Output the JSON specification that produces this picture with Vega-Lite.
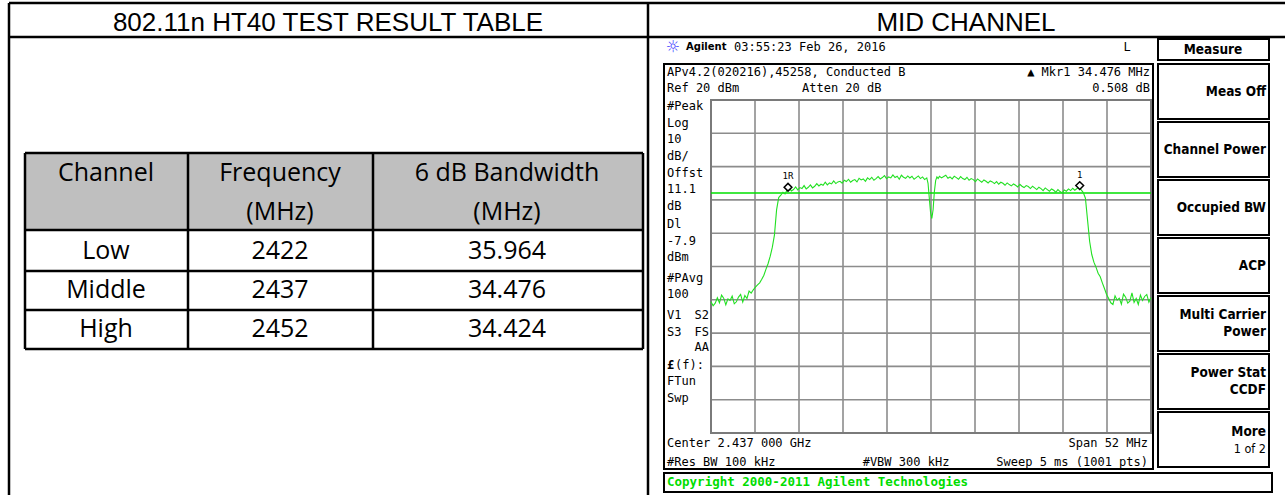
{
  "$schema": "https://vega.github.io/schema/vega-lite/v6.json",
  "width": 1285,
  "height": 495,
  "padding": 0,
  "autosize": {"type": "fit", "contains": "padding"},
  "background": "white",
  "config": {"view": {"stroke": null}},
  "datasets": {
    "lay": [
      {"k": "hdr", "x": 25, "x2": 643, "y": 153, "y2": 230},
      {"k": "line", "x": 9, "x2": 1285, "y": 3, "y2": 3},
      {"k": "line", "x": 9, "x2": 1285, "y": 37, "y2": 37},
      {"k": "line", "x": 9, "x2": 9, "y": 3, "y2": 495},
      {"k": "line", "x": 648, "x2": 648, "y": 3, "y2": 495},
      {"k": "line", "x": 25, "x2": 643, "y": 153, "y2": 153},
      {"k": "line", "x": 25, "x2": 643, "y": 230, "y2": 230},
      {"k": "line", "x": 25, "x2": 643, "y": 271, "y2": 271},
      {"k": "line", "x": 25, "x2": 643, "y": 310, "y2": 310},
      {"k": "line", "x": 25, "x2": 643, "y": 349, "y2": 349},
      {"k": "line", "x": 25, "x2": 25, "y": 153, "y2": 349},
      {"k": "line", "x": 188, "x2": 188, "y": 153, "y2": 349},
      {"k": "line", "x": 373, "x2": 373, "y": 153, "y2": 349},
      {"k": "line", "x": 643, "x2": 643, "y": 153, "y2": 349},
      {"k": "box", "x": 664, "x2": 1153, "y": 64, "y2": 469},
      {"k": "box", "x": 664, "x2": 1272, "y": 473, "y2": 492},
      {"k": "box", "x": 1158, "x2": 1269, "y": 39, "y2": 60},
      {"k": "box", "x": 1158, "x2": 1269, "y": 64, "y2": 119},
      {"k": "box", "x": 1158, "x2": 1269, "y": 122, "y2": 177},
      {"k": "box", "x": 1158, "x2": 1269, "y": 180, "y2": 235},
      {"k": "box", "x": 1158, "x2": 1269, "y": 238, "y2": 293},
      {"k": "box", "x": 1158, "x2": 1269, "y": 296, "y2": 351},
      {"k": "box", "x": 1158, "x2": 1269, "y": 354, "y2": 409},
      {"k": "box", "x": 1158, "x2": 1269, "y": 412, "y2": 467},
      {"k": "title", "t": "802.11n HT40 TEST RESULT TABLE", "x": 328, "y": 31},
      {"k": "title", "t": "MID CHANNEL", "x": 966, "y": 31},
      {"k": "tbl", "t": "Channel", "x": 106, "y": 173},
      {"k": "tbl", "t": "Frequency", "x": 280, "y": 173},
      {"k": "tbl", "t": "(MHz)", "x": 280, "y": 212},
      {"k": "tbl", "t": "6 dB Bandwidth", "x": 507, "y": 173},
      {"k": "tbl", "t": "(MHz)", "x": 507, "y": 212},
      {"k": "tbl", "t": "Low", "x": 106, "y": 251},
      {"k": "tbl", "t": "2422", "x": 280, "y": 251},
      {"k": "tbl", "t": "35.964", "x": 507, "y": 251},
      {"k": "tbl", "t": "Middle", "x": 106, "y": 290},
      {"k": "tbl", "t": "2437", "x": 280, "y": 290},
      {"k": "tbl", "t": "34.476", "x": 507, "y": 290},
      {"k": "tbl", "t": "High", "x": 106, "y": 329},
      {"k": "tbl", "t": "2452", "x": 280, "y": 329},
      {"k": "tbl", "t": "34.424", "x": 507, "y": 329},
      {"k": "sun", "t": "☼", "x": 673, "y": 47},
      {"k": "ag", "t": "Agilent", "x": 686, "y": 47},
      {"k": "ml", "t": "03:55:23  Feb 26, 2016", "x": 734, "y": 47},
      {"k": "mc", "t": "L", "x": 1127, "y": 47},
      {"k": "ml", "t": "APv4.2(020216),45258, Conducted B", "x": 667, "y": 72},
      {"k": "mr", "t": "▲ Mkr1  34.476 MHz", "x": 1150, "y": 72},
      {"k": "ml", "t": "Ref 20 dBm", "x": 667, "y": 88},
      {"k": "ml", "t": "Atten 20 dB", "x": 802, "y": 88},
      {"k": "mr", "t": "0.508 dB", "x": 1150, "y": 88},
      {"k": "ml", "t": "#Peak", "x": 667, "y": 106},
      {"k": "ml", "t": "Log", "x": 667, "y": 123},
      {"k": "ml", "t": "10", "x": 667, "y": 139},
      {"k": "ml", "t": "dB/", "x": 667, "y": 156},
      {"k": "ml", "t": "Offst", "x": 667, "y": 173},
      {"k": "ml", "t": "11.1", "x": 667, "y": 189},
      {"k": "ml", "t": "dB", "x": 667, "y": 206},
      {"k": "ml", "t": "Dl", "x": 667, "y": 224},
      {"k": "ml", "t": "-7.9", "x": 667, "y": 241},
      {"k": "ml", "t": "dBm", "x": 667, "y": 257},
      {"k": "ml", "t": "#PAvg", "x": 667, "y": 278},
      {"k": "ml", "t": "100", "x": 667, "y": 294},
      {"k": "ml", "t": "V1", "x": 667, "y": 315},
      {"k": "mr", "t": "S2", "x": 709, "y": 315},
      {"k": "ml", "t": "S3", "x": 667, "y": 332},
      {"k": "mr", "t": "FS", "x": 709, "y": 332},
      {"k": "mr", "t": "AA", "x": 709, "y": 347},
      {"k": "mlb", "t": "£", "x": 667, "y": 365},
      {"k": "ml", "t": "(f):", "x": 675, "y": 365},
      {"k": "ml", "t": "FTun", "x": 667, "y": 381},
      {"k": "ml", "t": "Swp", "x": 667, "y": 398},
      {"k": "ml", "t": "Center 2.437 000 GHz", "x": 667, "y": 443},
      {"k": "mr", "t": "Span 52 MHz", "x": 1148, "y": 443},
      {"k": "ml", "t": "#Res BW 100 kHz", "x": 667, "y": 462},
      {"k": "mc", "t": "#VBW 300 kHz", "x": 906, "y": 462},
      {"k": "mr", "t": "Sweep 5 ms (1001 pts)", "x": 1148, "y": 462},
      {"k": "cp", "t": "Copyright 2000-2011 Agilent Technologies", "x": 667, "y": 482},
      {"k": "skc", "t": "Measure", "x": 1213, "y": 50},
      {"k": "sk", "t": "Meas Off", "x": 1266, "y": 92},
      {"k": "sk", "t": "Channel Power", "x": 1266, "y": 150},
      {"k": "sk", "t": "Occupied BW", "x": 1266, "y": 208},
      {"k": "sk", "t": "ACP", "x": 1266, "y": 266},
      {"k": "sk", "t": "Multi Carrier", "x": 1266, "y": 315},
      {"k": "sk", "t": "Power", "x": 1266, "y": 332},
      {"k": "sk", "t": "Power Stat", "x": 1266, "y": 373},
      {"k": "sk", "t": "CCDF", "x": 1266, "y": 390},
      {"k": "sk", "t": "More", "x": 1266, "y": 432},
      {"k": "skn", "t": "1 of 2", "x": 1266, "y": 449}
    ],
    "gv": [{"f": 2416.2}, {"f": 2421.4}, {"f": 2426.6}, {"f": 2431.8}, {"f": 2437.0}, {"f": 2442.2}, {"f": 2447.4}, {"f": 2452.6}, {"f": 2457.8}],
    "gh": [{"p": 10}, {"p": 0}, {"p": -10}, {"p": -20}, {"p": -30}, {"p": -40}, {"p": -50}, {"p": -60}, {"p": -70}],
    "dl": [{"p": -7.9}],
    "mk": [{"f": 2420.1, "p": -6.2, "m": "1R"}, {"f": 2454.576, "p": -5.7, "m": "1"}],
    "tr": [
      {"f": 2411, "p": -40.6}, {"f": 2411.25, "p": -41.8}, {"f": 2411.5, "p": -41.0}, {"f": 2411.75, "p": -39.4},
      {"f": 2412, "p": -40.9}, {"f": 2412.25, "p": -38.6}, {"f": 2412.5, "p": -39.5}, {"f": 2412.75, "p": -41.5},
      {"f": 2413, "p": -39.7}, {"f": 2413.25, "p": -40.2}, {"f": 2413.5, "p": -38.9}, {"f": 2413.75, "p": -41.2},
      {"f": 2414, "p": -40.6}, {"f": 2414.25, "p": -39.2}, {"f": 2414.5, "p": -38.4}, {"f": 2414.75, "p": -40.7},
      {"f": 2415, "p": -38.7}, {"f": 2415.25, "p": -39.6}, {"f": 2415.5, "p": -37.4}, {"f": 2415.75, "p": -38.0},
      {"f": 2416, "p": -37.0}, {"f": 2416.25, "p": -36.2}, {"f": 2416.5, "p": -35.5}, {"f": 2416.75, "p": -34.9},
      {"f": 2417, "p": -33.8}, {"f": 2417.25, "p": -32.6}, {"f": 2417.5, "p": -30.8}, {"f": 2417.75, "p": -29.1},
      {"f": 2418, "p": -26.9}, {"f": 2418.25, "p": -24.2}, {"f": 2418.5, "p": -20.5}, {"f": 2418.75, "p": -13.0},
      {"f": 2419, "p": -9.3}, {"f": 2419.25, "p": -8.6}, {"f": 2419.5, "p": -7.7}, {"f": 2419.75, "p": -8.2},
      {"f": 2420, "p": -7.0}, {"f": 2420.25, "p": -6.4}, {"f": 2420.5, "p": -7.3}, {"f": 2420.75, "p": -6.9},
      {"f": 2421, "p": -6.1}, {"f": 2421.25, "p": -7.0}, {"f": 2421.5, "p": -6.3}, {"f": 2421.75, "p": -6.6},
      {"f": 2422, "p": -5.7}, {"f": 2422.25, "p": -6.7}, {"f": 2422.5, "p": -6.2}, {"f": 2422.75, "p": -5.5},
      {"f": 2423, "p": -6.4}, {"f": 2423.25, "p": -5.9}, {"f": 2423.5, "p": -5.1}, {"f": 2423.75, "p": -5.8},
      {"f": 2424, "p": -5.3}, {"f": 2424.25, "p": -5.6}, {"f": 2424.5, "p": -4.7}, {"f": 2424.75, "p": -5.5},
      {"f": 2425, "p": -4.9}, {"f": 2425.25, "p": -5.2}, {"f": 2425.5, "p": -4.3}, {"f": 2425.75, "p": -5.1},
      {"f": 2426, "p": -4.6}, {"f": 2426.25, "p": -4.4}, {"f": 2426.5, "p": -5.0}, {"f": 2426.75, "p": -4.1},
      {"f": 2427, "p": -4.5}, {"f": 2427.25, "p": -3.8}, {"f": 2427.5, "p": -4.7}, {"f": 2427.75, "p": -4.2},
      {"f": 2428, "p": -3.9}, {"f": 2428.25, "p": -4.6}, {"f": 2428.5, "p": -3.5}, {"f": 2428.75, "p": -4.0},
      {"f": 2429, "p": -3.7}, {"f": 2429.25, "p": -4.4}, {"f": 2429.5, "p": -3.4}, {"f": 2429.75, "p": -3.9},
      {"f": 2430, "p": -3.2}, {"f": 2430.25, "p": -4.1}, {"f": 2430.5, "p": -3.6}, {"f": 2430.75, "p": -3.0},
      {"f": 2431, "p": -3.7}, {"f": 2431.25, "p": -3.3}, {"f": 2431.5, "p": -2.7}, {"f": 2431.75, "p": -3.6},
      {"f": 2432, "p": -3.1}, {"f": 2432.25, "p": -3.4}, {"f": 2432.5, "p": -2.5}, {"f": 2432.75, "p": -3.3},
      {"f": 2433, "p": -2.9}, {"f": 2433.25, "p": -3.8}, {"f": 2433.5, "p": -2.6}, {"f": 2433.75, "p": -3.2},
      {"f": 2434, "p": -3.5}, {"f": 2434.25, "p": -2.8}, {"f": 2434.5, "p": -3.4}, {"f": 2434.75, "p": -2.9},
      {"f": 2435, "p": -3.8}, {"f": 2435.25, "p": -3.3}, {"f": 2435.5, "p": -2.8}, {"f": 2435.75, "p": -3.6},
      {"f": 2436, "p": -3.1}, {"f": 2436.25, "p": -3.9}, {"f": 2436.5, "p": -3.4}, {"f": 2436.65, "p": -5.0},
      {"f": 2436.8, "p": -9.5}, {"f": 2436.95, "p": -13.8}, {"f": 2437.1, "p": -15.6}, {"f": 2437.25, "p": -12.9},
      {"f": 2437.4, "p": -7.5}, {"f": 2437.55, "p": -4.2}, {"f": 2437.7, "p": -3.1}, {"f": 2437.85, "p": -3.6},
      {"f": 2438, "p": -2.9}, {"f": 2438.25, "p": -3.4}, {"f": 2438.5, "p": -3.0}, {"f": 2438.75, "p": -2.6},
      {"f": 2439, "p": -3.5}, {"f": 2439.25, "p": -3.1}, {"f": 2439.5, "p": -3.7}, {"f": 2439.75, "p": -2.9},
      {"f": 2440, "p": -3.3}, {"f": 2440.25, "p": -3.8}, {"f": 2440.5, "p": -3.0}, {"f": 2440.75, "p": -3.6},
      {"f": 2441, "p": -3.9}, {"f": 2441.25, "p": -3.2}, {"f": 2441.5, "p": -4.1}, {"f": 2441.75, "p": -3.6},
      {"f": 2442, "p": -3.9}, {"f": 2442.25, "p": -4.5}, {"f": 2442.5, "p": -3.7}, {"f": 2442.75, "p": -4.2},
      {"f": 2443, "p": -4.7}, {"f": 2443.25, "p": -4.0}, {"f": 2443.5, "p": -4.4}, {"f": 2443.75, "p": -4.9},
      {"f": 2444, "p": -4.3}, {"f": 2444.25, "p": -4.6}, {"f": 2444.5, "p": -5.1}, {"f": 2444.75, "p": -4.5},
      {"f": 2445, "p": -5.3}, {"f": 2445.25, "p": -4.7}, {"f": 2445.5, "p": -5.0}, {"f": 2445.75, "p": -5.6},
      {"f": 2446, "p": -4.9}, {"f": 2446.25, "p": -5.4}, {"f": 2446.5, "p": -5.8}, {"f": 2446.75, "p": -5.2},
      {"f": 2447, "p": -5.6}, {"f": 2447.25, "p": -6.1}, {"f": 2447.5, "p": -5.3}, {"f": 2447.75, "p": -5.9},
      {"f": 2448, "p": -6.3}, {"f": 2448.25, "p": -5.7}, {"f": 2448.5, "p": -6.0}, {"f": 2448.75, "p": -6.6},
      {"f": 2449, "p": -5.9}, {"f": 2449.25, "p": -6.4}, {"f": 2449.5, "p": -6.9}, {"f": 2449.75, "p": -6.2},
      {"f": 2450, "p": -6.6}, {"f": 2450.25, "p": -7.2}, {"f": 2450.5, "p": -6.4}, {"f": 2450.75, "p": -6.9},
      {"f": 2451, "p": -7.4}, {"f": 2451.25, "p": -6.7}, {"f": 2451.5, "p": -7.1}, {"f": 2451.75, "p": -7.7},
      {"f": 2452, "p": -6.9}, {"f": 2452.25, "p": -7.5}, {"f": 2452.5, "p": -7.9}, {"f": 2452.75, "p": -7.0},
      {"f": 2453, "p": -7.4}, {"f": 2453.25, "p": -6.7}, {"f": 2453.5, "p": -7.2}, {"f": 2453.75, "p": -6.5},
      {"f": 2454, "p": -7.1}, {"f": 2454.25, "p": -6.6}, {"f": 2454.5, "p": -6.3}, {"f": 2454.75, "p": -7.0},
      {"f": 2455, "p": -7.8}, {"f": 2455.25, "p": -9.5}, {"f": 2455.5, "p": -16.0}, {"f": 2455.75, "p": -22.5},
      {"f": 2456, "p": -26.4}, {"f": 2456.25, "p": -28.7}, {"f": 2456.5, "p": -30.2}, {"f": 2456.75, "p": -32.0},
      {"f": 2457, "p": -33.1}, {"f": 2457.25, "p": -34.9}, {"f": 2457.5, "p": -36.6}, {"f": 2457.75, "p": -38.4},
      {"f": 2458, "p": -39.6}, {"f": 2458.25, "p": -40.9}, {"f": 2458.5, "p": -41.4}, {"f": 2458.75, "p": -38.8},
      {"f": 2459, "p": -40.1}, {"f": 2459.25, "p": -39.5}, {"f": 2459.5, "p": -41.3}, {"f": 2459.75, "p": -38.3},
      {"f": 2460, "p": -39.2}, {"f": 2460.25, "p": -41.0}, {"f": 2460.5, "p": -40.4}, {"f": 2460.75, "p": -37.9},
      {"f": 2461, "p": -40.8}, {"f": 2461.25, "p": -39.6}, {"f": 2461.5, "p": -41.4}, {"f": 2461.75, "p": -38.6},
      {"f": 2462, "p": -40.2}, {"f": 2462.25, "p": -39.0}, {"f": 2462.5, "p": -38.4}, {"f": 2462.75, "p": -40.7},
      {"f": 2463, "p": -39.3}
    ]
  },
  "layer": [
    {
      "layer": [
        {
          "data": {"name": "lay"},
          "transform": [{"filter": "datum.k == 'hdr'"}],
          "mark": {"type": "rect", "fill": "#bfbfbf", "stroke": null},
          "encoding": {
            "x": {"field": "x", "type": "quantitative", "scale": {"domain": [0, 1285], "range": [0, 1285], "nice": false, "zero": false}, "axis": null},
            "x2": {"field": "x2"},
            "y": {"field": "y", "type": "quantitative", "scale": {"domain": [0, 495], "range": [0, 495], "nice": false, "zero": false}, "axis": null},
            "y2": {"field": "y2"}
          }
        },
        {
          "data": {"name": "lay"},
          "transform": [{"filter": "datum.k == 'line'"}],
          "mark": {"type": "rule", "color": "black", "strokeWidth": 2.5},
          "encoding": {
            "x": {"field": "x", "type": "quantitative", "scale": {"domain": [0, 1285], "range": [0, 1285], "nice": false, "zero": false}, "axis": null},
            "x2": {"field": "x2"},
            "y": {"field": "y", "type": "quantitative", "scale": {"domain": [0, 495], "range": [0, 495], "nice": false, "zero": false}, "axis": null},
            "y2": {"field": "y2"}
          }
        },
        {
          "data": {"name": "lay"},
          "transform": [{"filter": "datum.k == 'box'"}],
          "mark": {"type": "rect", "fill": "transparent", "stroke": "black", "strokeWidth": 2},
          "encoding": {
            "x": {"field": "x", "type": "quantitative", "scale": {"domain": [0, 1285], "range": [0, 1285], "nice": false, "zero": false}, "axis": null},
            "x2": {"field": "x2"},
            "y": {"field": "y", "type": "quantitative", "scale": {"domain": [0, 495], "range": [0, 495], "nice": false, "zero": false}, "axis": null},
            "y2": {"field": "y2"}
          }
        },
        {
          "data": {"name": "lay"},
          "transform": [{"filter": "datum.k == 'title'"}],
          "mark": {"type": "text", "font": "Liberation Sans", "fontSize": 26, "align": "center", "baseline": "alphabetic", "color": "black"},
          "encoding": {
            "x": {"field": "x", "type": "quantitative", "scale": {"domain": [0, 1285], "range": [0, 1285], "nice": false, "zero": false}, "axis": null},
            "y": {"field": "y", "type": "quantitative", "scale": {"domain": [0, 495], "range": [0, 495], "nice": false, "zero": false}, "axis": null},
            "text": {"field": "t"}
          }
        },
        {
          "data": {"name": "lay"},
          "transform": [{"filter": "datum.k == 'tbl'"}],
          "mark": {"type": "text", "font": "Open Sans", "fontSize": 25, "align": "center", "baseline": "middle", "color": "black"},
          "encoding": {
            "x": {"field": "x", "type": "quantitative", "scale": {"domain": [0, 1285], "range": [0, 1285], "nice": false, "zero": false}, "axis": null},
            "y": {"field": "y", "type": "quantitative", "scale": {"domain": [0, 495], "range": [0, 495], "nice": false, "zero": false}, "axis": null},
            "text": {"field": "t"}
          }
        },
        {
          "data": {"name": "lay"},
          "transform": [{"filter": "datum.k == 'ml'"}],
          "mark": {"type": "text", "font": "DejaVu Sans Mono", "fontSize": 12, "align": "left", "baseline": "middle", "color": "black"},
          "encoding": {
            "x": {"field": "x", "type": "quantitative", "scale": {"domain": [0, 1285], "range": [0, 1285], "nice": false, "zero": false}, "axis": null},
            "y": {"field": "y", "type": "quantitative", "scale": {"domain": [0, 495], "range": [0, 495], "nice": false, "zero": false}, "axis": null},
            "text": {"field": "t"}
          }
        },
        {
          "data": {"name": "lay"},
          "transform": [{"filter": "datum.k == 'mlb'"}],
          "mark": {"type": "text", "font": "DejaVu Sans Mono", "fontSize": 12, "fontWeight": "bold", "align": "left", "baseline": "middle", "color": "black"},
          "encoding": {
            "x": {"field": "x", "type": "quantitative", "scale": {"domain": [0, 1285], "range": [0, 1285], "nice": false, "zero": false}, "axis": null},
            "y": {"field": "y", "type": "quantitative", "scale": {"domain": [0, 495], "range": [0, 495], "nice": false, "zero": false}, "axis": null},
            "text": {"field": "t"}
          }
        },
        {
          "data": {"name": "lay"},
          "transform": [{"filter": "datum.k == 'mr'"}],
          "mark": {"type": "text", "font": "DejaVu Sans Mono", "fontSize": 12, "align": "right", "baseline": "middle", "color": "black"},
          "encoding": {
            "x": {"field": "x", "type": "quantitative", "scale": {"domain": [0, 1285], "range": [0, 1285], "nice": false, "zero": false}, "axis": null},
            "y": {"field": "y", "type": "quantitative", "scale": {"domain": [0, 495], "range": [0, 495], "nice": false, "zero": false}, "axis": null},
            "text": {"field": "t"}
          }
        },
        {
          "data": {"name": "lay"},
          "transform": [{"filter": "datum.k == 'mc'"}],
          "mark": {"type": "text", "font": "DejaVu Sans Mono", "fontSize": 12, "align": "center", "baseline": "middle", "color": "black"},
          "encoding": {
            "x": {"field": "x", "type": "quantitative", "scale": {"domain": [0, 1285], "range": [0, 1285], "nice": false, "zero": false}, "axis": null},
            "y": {"field": "y", "type": "quantitative", "scale": {"domain": [0, 495], "range": [0, 495], "nice": false, "zero": false}, "axis": null},
            "text": {"field": "t"}
          }
        },
        {
          "data": {"name": "lay"},
          "transform": [{"filter": "datum.k == 'ag'"}],
          "mark": {"type": "text", "font": "DejaVu Sans", "fontSize": 10, "fontWeight": "bold", "align": "left", "baseline": "middle", "color": "black"},
          "encoding": {
            "x": {"field": "x", "type": "quantitative", "scale": {"domain": [0, 1285], "range": [0, 1285], "nice": false, "zero": false}, "axis": null},
            "y": {"field": "y", "type": "quantitative", "scale": {"domain": [0, 495], "range": [0, 495], "nice": false, "zero": false}, "axis": null},
            "text": {"field": "t"}
          }
        },
        {
          "data": {"name": "lay"},
          "transform": [{"filter": "datum.k == 'sun'"}],
          "mark": {"type": "text", "font": "DejaVu Sans", "fontSize": 16, "align": "center", "baseline": "middle", "color": "#3d3dff"},
          "encoding": {
            "x": {"field": "x", "type": "quantitative", "scale": {"domain": [0, 1285], "range": [0, 1285], "nice": false, "zero": false}, "axis": null},
            "y": {"field": "y", "type": "quantitative", "scale": {"domain": [0, 495], "range": [0, 495], "nice": false, "zero": false}, "axis": null},
            "text": {"field": "t"}
          }
        },
        {
          "data": {"name": "lay"},
          "transform": [{"filter": "datum.k == 'cp'"}],
          "mark": {"type": "text", "font": "DejaVu Sans Mono", "fontSize": 12.5, "fontWeight": "bold", "align": "left", "baseline": "middle", "color": "#00dd00"},
          "encoding": {
            "x": {"field": "x", "type": "quantitative", "scale": {"domain": [0, 1285], "range": [0, 1285], "nice": false, "zero": false}, "axis": null},
            "y": {"field": "y", "type": "quantitative", "scale": {"domain": [0, 495], "range": [0, 495], "nice": false, "zero": false}, "axis": null},
            "text": {"field": "t"}
          }
        },
        {
          "data": {"name": "lay"},
          "transform": [{"filter": "datum.k == 'sk'"}],
          "mark": {"type": "text", "font": "DejaVu Sans Condensed, DejaVu Sans", "fontSize": 13.5, "fontWeight": "bold", "align": "right", "baseline": "middle", "color": "black"},
          "encoding": {
            "x": {"field": "x", "type": "quantitative", "scale": {"domain": [0, 1285], "range": [0, 1285], "nice": false, "zero": false}, "axis": null},
            "y": {"field": "y", "type": "quantitative", "scale": {"domain": [0, 495], "range": [0, 495], "nice": false, "zero": false}, "axis": null},
            "text": {"field": "t"}
          }
        },
        {
          "data": {"name": "lay"},
          "transform": [{"filter": "datum.k == 'skc'"}],
          "mark": {"type": "text", "font": "DejaVu Sans Condensed, DejaVu Sans", "fontSize": 13.5, "fontWeight": "bold", "align": "center", "baseline": "middle", "color": "black"},
          "encoding": {
            "x": {"field": "x", "type": "quantitative", "scale": {"domain": [0, 1285], "range": [0, 1285], "nice": false, "zero": false}, "axis": null},
            "y": {"field": "y", "type": "quantitative", "scale": {"domain": [0, 495], "range": [0, 495], "nice": false, "zero": false}, "axis": null},
            "text": {"field": "t"}
          }
        },
        {
          "data": {"name": "lay"},
          "transform": [{"filter": "datum.k == 'skn'"}],
          "mark": {"type": "text", "font": "DejaVu Sans Condensed, DejaVu Sans", "fontSize": 12.5, "align": "right", "baseline": "middle", "color": "black"},
          "encoding": {
            "x": {"field": "x", "type": "quantitative", "scale": {"domain": [0, 1285], "range": [0, 1285], "nice": false, "zero": false}, "axis": null},
            "y": {"field": "y", "type": "quantitative", "scale": {"domain": [0, 495], "range": [0, 495], "nice": false, "zero": false}, "axis": null},
            "text": {"field": "t"}
          }
        }
      ]
    },
    {
      "layer": [
        {
          "data": {"name": "gv"},
          "mark": {"type": "rule", "color": "#8c8c8c", "strokeWidth": 1.6},
          "encoding": {
            "x": {"field": "f", "type": "quantitative", "scale": {"domain": [2411, 2463], "range": [711, 1151], "nice": false, "zero": false}, "axis": null},
            "y": {"datum": -80, "type": "quantitative", "scale": {"domain": [-80, 20], "range": [433, 100], "nice": false, "zero": false}, "axis": null},
            "y2": {"datum": 20}
          }
        },
        {
          "data": {"name": "gh"},
          "mark": {"type": "rule", "color": "#8c8c8c", "strokeWidth": 1.6},
          "encoding": {
            "x": {"datum": 2411, "type": "quantitative", "scale": {"domain": [2411, 2463], "range": [711, 1151], "nice": false, "zero": false}, "axis": null},
            "x2": {"datum": 2463},
            "y": {"field": "p", "type": "quantitative", "scale": {"domain": [-80, 20], "range": [433, 100], "nice": false, "zero": false}, "axis": null}
          }
        },
        {
          "data": {"name": "dl"},
          "mark": {"type": "rect", "fill": "transparent", "stroke": "#7a7a7a", "strokeWidth": 2},
          "encoding": {
            "x": {"datum": 2411, "type": "quantitative", "scale": {"domain": [2411, 2463], "range": [711, 1151], "nice": false, "zero": false}, "axis": null},
            "x2": {"datum": 2463},
            "y": {"datum": -80, "type": "quantitative", "scale": {"domain": [-80, 20], "range": [433, 100], "nice": false, "zero": false}, "axis": null},
            "y2": {"datum": 20}
          }
        },
        {
          "data": {"name": "dl"},
          "mark": {"type": "rule", "color": "#00e000", "strokeWidth": 1.5},
          "encoding": {
            "x": {"datum": 2411, "type": "quantitative", "scale": {"domain": [2411, 2463], "range": [711, 1151], "nice": false, "zero": false}, "axis": null},
            "x2": {"datum": 2463},
            "y": {"field": "p", "type": "quantitative", "scale": {"domain": [-80, 20], "range": [433, 100], "nice": false, "zero": false}, "axis": null}
          }
        },
        {
          "data": {"name": "tr"},
          "mark": {"type": "line", "stroke": "#22e022", "strokeWidth": 1.1},
          "encoding": {
            "x": {"field": "f", "type": "quantitative", "scale": {"domain": [2411, 2463], "range": [711, 1151], "nice": false, "zero": false}, "axis": null},
            "y": {"field": "p", "type": "quantitative", "scale": {"domain": [-80, 20], "range": [433, 100], "nice": false, "zero": false}, "axis": null}
          }
        },
        {
          "data": {"name": "mk"},
          "mark": {"type": "point", "shape": "diamond", "size": 60, "filled": true, "fill": "white", "stroke": "black", "strokeWidth": 1.5, "opacity": 1},
          "encoding": {
            "x": {"field": "f", "type": "quantitative", "scale": {"domain": [2411, 2463], "range": [711, 1151], "nice": false, "zero": false}, "axis": null},
            "y": {"field": "p", "type": "quantitative", "scale": {"domain": [-80, 20], "range": [433, 100], "nice": false, "zero": false}, "axis": null}
          }
        },
        {
          "data": {"name": "mk"},
          "mark": {"type": "text", "font": "DejaVu Sans Mono", "fontSize": 9, "align": "center", "baseline": "middle", "dy": -11, "color": "black"},
          "encoding": {
            "x": {"field": "f", "type": "quantitative", "scale": {"domain": [2411, 2463], "range": [711, 1151], "nice": false, "zero": false}, "axis": null},
            "y": {"field": "p", "type": "quantitative", "scale": {"domain": [-80, 20], "range": [433, 100], "nice": false, "zero": false}, "axis": null},
            "text": {"field": "m"}
          }
        }
      ]
    }
  ],
  "resolve": {"scale": {"x": "independent", "y": "independent"}}
}
